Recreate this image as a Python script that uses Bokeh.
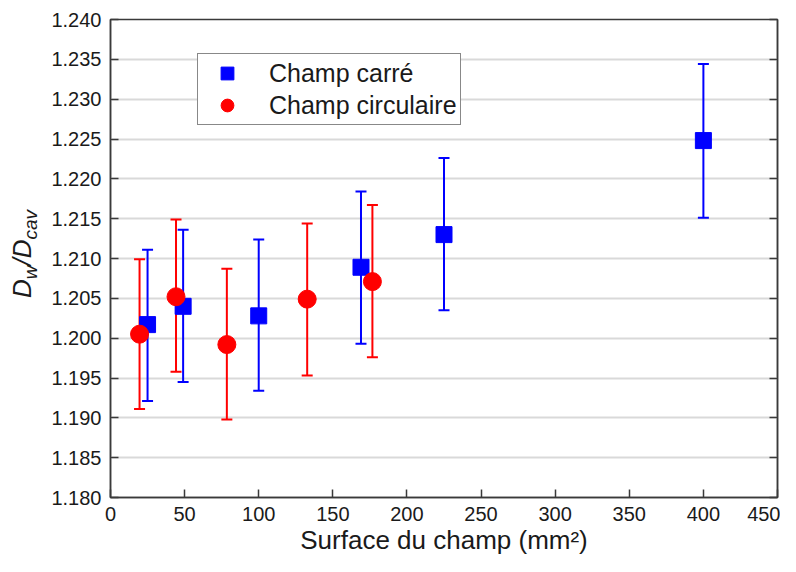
from bokeh.plotting import figure
from bokeh.layouts import row
from bokeh.models import (ColumnDataSource, Whisker, TeeHead, LinearAxis, FixedTicker,
                          PrintfTickFormatter, CustomJSTickFormatter, Range1d, Div)
from bokeh.embed import file_html
from bokeh.resources import INLINE

# ---- data ----
carre_x = [25, 49, 100, 169, 225, 400]
carre_y = [1.2017, 1.2040, 1.2028, 1.2089, 1.2130, 1.2248]
carre_low = [1.1921, 1.1945, 1.1934, 1.1993, 1.2035, 1.2151]
carre_high = [1.2111, 1.2136, 1.2124, 1.2184, 1.2226, 1.2344]

circ_x = [19.6, 44.2, 78.5, 132.7, 176.7]
circ_y = [1.2005, 1.2052, 1.1992, 1.2049, 1.2071]
circ_low = [1.1911, 1.1958, 1.1898, 1.1953, 1.1976]
circ_high = [1.2099, 1.2149, 1.2087, 1.2144, 1.2167]

x_ticks = [0, 50, 100, 150, 200, 250, 300, 350, 400, 450]
y_ticks = [1.180, 1.185, 1.190, 1.195, 1.200, 1.205, 1.210, 1.215,
           1.220, 1.225, 1.230, 1.235, 1.240]

FONT = "Liberation Sans"
TXT = "#1a1a1a"
AX = "#3a3a3a"
DIV_W = 45

src_c = ColumnDataSource(dict(x=carre_x, y=carre_y, lower=carre_low, upper=carre_high))
src_r = ColumnDataSource(dict(x=circ_x, y=circ_y, lower=circ_low, upper=circ_high))

p = figure(width=780 - DIV_W, height=556, output_backend="svg", toolbar_location=None,
           x_range=Range1d(0, 450), y_range=Range1d(1.180, 1.240),
           min_border_left=110 - DIV_W, min_border_top=19, min_border_right=3,
           min_border_bottom=0, frame_width=667, frame_height=478, margin=0)
p.background_fill_color = "white"
p.border_fill_color = "white"
p.outline_line_color = AX
p.outline_line_width = 1.5
p.outline_line_alpha = 1.0

p.xgrid.visible = False
p.ygrid.grid_line_color = "#d9d9d9"
p.ygrid.grid_line_width = 2
p.ygrid.ticker = FixedTicker(ticks=y_ticks)

for ax in (p.xaxis[0], p.yaxis[0]):
    ax.axis_line_color = AX
    ax.axis_line_width = 1.5
    ax.major_tick_line_color = AX
    ax.major_tick_line_width = 1.5
    ax.major_tick_in = 8
    ax.major_tick_out = 0
    ax.minor_tick_line_color = None
    ax.major_label_text_font = FONT
    ax.major_label_text_font_size = "20px"
    ax.major_label_text_color = TXT
    ax.major_label_standoff = 9

p.xaxis.ticker = FixedTicker(ticks=x_ticks)
p.yaxis.ticker = FixedTicker(ticks=y_ticks)
p.yaxis.formatter = PrintfTickFormatter(format="%.3f")

p.xaxis.axis_label = "Surface du champ (mm²)"
p.xaxis.axis_label_text_font = FONT
p.xaxis.axis_label_text_font_size = "26px"
p.xaxis.axis_label_text_font_style = "normal"
p.xaxis.axis_label_text_color = TXT
p.xaxis.axis_label_standoff = 1

rax = LinearAxis(ticker=FixedTicker(ticks=y_ticks),
                 formatter=CustomJSTickFormatter(code="return ''"))
rax.axis_line_color = AX
rax.axis_line_width = 1.5
rax.major_tick_line_color = AX
rax.major_tick_line_width = 1.5
rax.major_tick_in = 8
rax.major_tick_out = 0
rax.minor_tick_line_color = None
rax.major_label_standoff = 0
p.add_layout(rax, "right")

# error bars
for src, col in ((src_c, "#0000ff"), (src_r, "#ff0000")):
    w = Whisker(source=src, base="x", lower="lower", upper="upper",
                line_color=col, line_width=2,
                upper_head=TeeHead(size=11, line_color=col, line_width=2),
                lower_head=TeeHead(size=11, line_color=col, line_width=2))
    p.add_layout(w)

p.scatter("x", "y", source=src_c, marker="square", size=16, fill_color="#0000ff",
          line_color="#0000ff", legend_label="Champ carré")
p.scatter("x", "y", source=src_r, marker="circle", size=18, fill_color="#ff0000",
          line_color="#ff0000", legend_label="Champ circulaire")

lg = p.legend[0]
lg.location = (87, 372)
lg.border_line_color = "#111111"
lg.border_line_width = 1.5
lg.background_fill_alpha = 1.0
lg.label_text_font = FONT
lg.label_text_font_size = "25px"
lg.label_text_color = TXT
lg.glyph_width = 52
lg.glyph_height = 32
lg.label_height = 32
lg.label_standoff = 16
lg.padding = 3
lg.spacing = 0
lg.margin = 0

# y axis title D_w/D_cav as rotated HTML text
ylab_html = (
    f'<div style="position:relative;width:{DIV_W}px;height:556px;">'
    '<div style="position:absolute;left:9px;top:298px;transform:rotate(-90deg);'
    f"transform-origin:0 0;white-space:nowrap;font-family:'{FONT}';font-size:26px;"
    f'line-height:1;font-style:italic;color:{TXT};">'
    'D<span style="font-size:19px;vertical-align:-6px;">w</span>/D'
    '<span style="font-size:19px;vertical-align:-6px;">cav</span>'
    '</div></div>'
)
ylab = Div(text=ylab_html, width=DIV_W, height=556, margin=0)

layout = row(ylab, p, spacing=0)
open("out.html", "w").write(file_html(layout, INLINE))
